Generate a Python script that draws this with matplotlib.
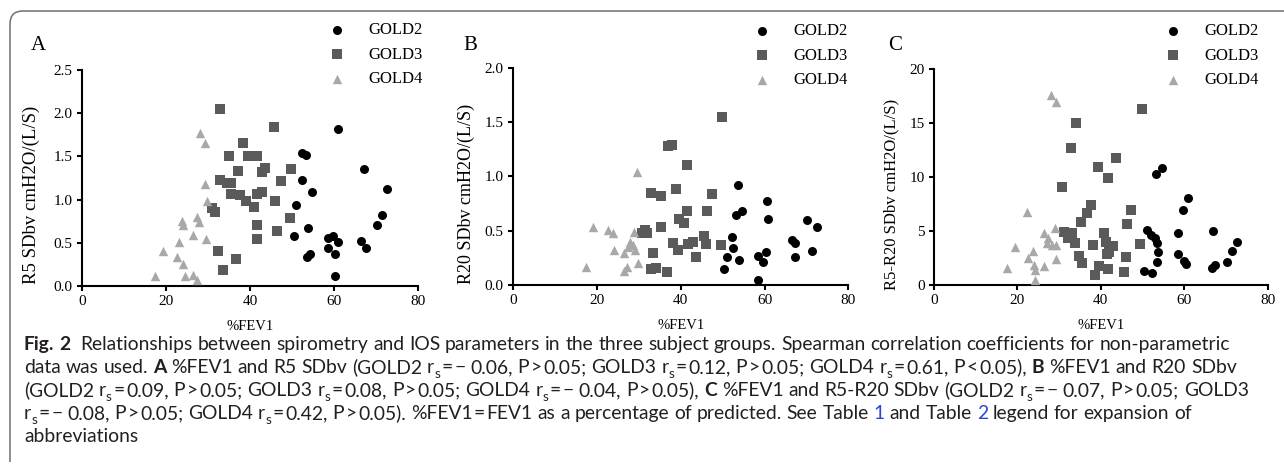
import re
import matplotlib
matplotlib.use("Agg")
import matplotlib.pyplot as plt
from matplotlib.path import Path
from matplotlib.patches import PathPatch
from matplotlib.transforms import IdentityTransform

plt.rcParams["font.family"] = ["Liberation Serif", "DejaVu Serif"]

# --- data (x = %FEV1) ---
GROUPS = ["GOLD2", "GOLD3", "GOLD4"]

# panel A: R5 SDbv
A_G2_X = [61.0, 52.2, 53.3, 67.1, 52.2, 54.6, 72.6, 51.0, 71.4, 70.2, 53.8, 50.5, 58.4, 59.8, 60.8, 58.6, 60.2, 66.4, 67.5, 53.6, 54.2, 60.2]
A_G2_Y = [1.82, 1.54, 1.52, 1.35, 1.23, 1.09, 1.12, 0.94, 0.82, 0.71, 0.67, 0.58, 0.56, 0.58, 0.51, 0.44, 0.37, 0.52, 0.44, 0.33, 0.37, 0.11]
A_G3_X = [32.9, 45.7, 38.3, 35.0, 39.5, 41.5, 37.0, 43.5, 42.9, 49.7, 32.9, 34.5, 35.5, 47.3, 35.4, 37.5, 38.9, 41.7, 42.9, 40.9,
          46.0, 30.9, 31.6, 49.4, 41.7, 46.3, 41.5, 32.2, 36.7, 33.6]
A_G3_Y = [2.05, 1.84, 1.65, 1.51, 1.50, 1.50, 1.33, 1.36, 1.32, 1.35, 1.23, 1.19, 1.19, 1.22, 1.06, 1.05, 0.98, 1.07, 1.09, 0.91,
          0.98, 0.90, 0.86, 0.79, 0.71, 0.64, 0.54, 0.40, 0.31, 0.19]
A_G4_X = [28.0, 29.2, 29.2, 29.8, 23.8, 24.0, 27.2, 27.8, 26.4, 29.4, 23.1, 19.3, 22.5, 24.0, 17.3, 24.4, 26.4, 27.2]
A_G4_Y = [1.77, 1.66, 1.18, 0.98, 0.75, 0.71, 0.80, 0.74, 0.59, 0.54, 0.51, 0.41, 0.33, 0.26, 0.11, 0.11, 0.13, 0.07]

# panel B: R20 SDbv
B_G2_X = [53.6, 60.5, 54.5, 53.1, 60.9, 70.2, 72.6, 52.2, 52.4, 66.5, 67.3, 51.0, 54.0, 58.5, 60.3, 59.7, 67.3, 71.4, 50.4, 58.5]
B_G2_Y = [0.92, 0.77, 0.68, 0.64, 0.61, 0.60, 0.53, 0.44, 0.34, 0.41, 0.39, 0.26, 0.23, 0.27, 0.30, 0.21, 0.26, 0.31, 0.15, 0.05]
B_G3_X = [49.8, 37.0, 37.8, 41.4, 32.9, 35.2, 38.8, 47.4, 41.4, 46.2, 39.6, 40.8, 35.2, 31.5, 32.0, 30.7, 38.2, 39.4, 41.8, 42.8,
          45.6, 46.0, 49.5, 33.4, 43.6, 32.9, 34.1, 36.6]
B_G3_Y = [1.55, 1.28, 1.29, 1.10, 0.85, 0.82, 0.88, 0.84, 0.68, 0.68, 0.61, 0.57, 0.53, 0.51, 0.48, 0.48, 0.39, 0.32, 0.38, 0.40,
          0.45, 0.38, 0.37, 0.29, 0.26, 0.15, 0.16, 0.12]
B_G4_X = [29.5, 19.1, 22.5, 23.9, 28.9, 27.9, 27.5, 28.7, 29.1, 24.1, 26.5, 17.4, 27.2, 26.5, 29.7]
B_G4_Y = [1.04, 0.53, 0.51, 0.48, 0.49, 0.40, 0.35, 0.37, 0.32, 0.32, 0.29, 0.17, 0.17, 0.13, 0.20]

# panel C: R5-R20 SDbv
C_G2_X = [54.6, 53.2, 61.0, 59.8, 67.0, 58.4, 51.0, 52.0, 53.0, 53.5, 72.7, 71.4, 53.8, 58.4, 53.5, 59.9, 60.3, 70.2, 67.4, 66.6, 50.3, 52.2]
C_G2_Y = [10.86, 10.25, 8.08, 6.94, 5.00, 4.79, 5.09, 4.63, 4.32, 3.92, 4.01, 3.18, 3.02, 2.87, 2.16, 2.22, 1.91, 2.16, 1.85, 1.54, 1.33, 1.08]
C_G3_X = [49.8, 34.0, 32.8, 43.6, 39.4, 41.6, 30.8, 37.6, 36.6, 47.2, 35.2, 46.2, 31.2, 33.0, 32.2, 40.8, 33.8, 41.2, 42.8, 38.0,
          49.4, 42.0, 41.4, 34.8, 35.4, 46.0, 39.6, 41.8, 38.6, 45.6]
C_G3_Y = [16.3, 14.97, 12.66, 11.73, 10.96, 9.88, 9.04, 7.41, 6.64, 6.94, 5.86, 5.65, 4.94, 4.79, 4.32, 4.85, 3.86, 4.01, 3.64, 3.70,
          3.80, 3.09, 2.87, 2.69, 2.01, 2.56, 1.79, 1.45, 0.93, 1.17]
C_G4_X = [28.0, 29.3, 22.4, 29.0, 26.4, 27.4, 27.0, 28.2, 29.3, 19.3, 23.8, 22.6, 29.3, 17.4, 24.0, 24.2, 26.4, 24.2]
C_G4_Y = [17.6, 16.97, 6.73, 5.25, 4.79, 4.32, 3.86, 3.70, 3.70, 3.55, 3.18, 2.47, 2.38, 1.60, 1.85, 1.39, 1.76, 0.46]

X_TICKS = [0, 20, 40, 60, 80]
A_TICKS = [0.0, 0.5, 1.0, 1.5, 2.0, 2.5]
B_TICKS = [0.0, 0.5, 1.0, 1.5, 2.0]
C_TICKS = [0, 5, 10, 15, 20]

CAPTION = [
    "**Fig. 2**  Relationships between spirometry and IOS parameters in the three subject groups. Spearman correlation coefficients for non-parametric",
    "data was used. **A** %FEV1 and R5 SDbv (GOLD2 r_s = − 0.06, P > 0.05; GOLD3 r_s = 0.12, P > 0.05; GOLD4 r_s = 0.61, P < 0.05), **B** %FEV1 and R20 SDbv",
    "(GOLD2 r_s = 0.09, P > 0.05; GOLD3 r_s = 0.08, P > 0.05; GOLD4 r_s = − 0.04, P > 0.05), **C** %FEV1 and R5-R20 SDbv (GOLD2 r_s = − 0.07, P > 0.05; GOLD3",
    "r_s = − 0.08, P > 0.05; GOLD4 r_s = 0.42, P > 0.05). %FEV1 = FEV1 as a percentage of predicted. See Table [1] and Table [2] legend for expansion of",
    "abbreviations",
]
# right ends of the first four caption lines in the reference (pixels)
CAPTION_ENDS = [1235, 1226, 1239, 1198]

# --- styling ---
W, H = 1284, 474
MARKERS = {"GOLD2": ("o", "black", 42), "GOLD3": ("s", "#5a5a5a", 42), "GOLD4": ("^", "#a8a8a8", 46)}
CAP_FONT = ["Lato", "DejaVu Sans"]
CAP_COLOR = "#231f20"
LINK_COLOR = "#2b45d8"
THIN = "\u2009"

fig = plt.figure(figsize=(W / 100, H / 100), dpi=100)


def px_box(left, top, right, bottom):
    return [left / W, 1 - bottom / H, (right - left) / W, (bottom - top) / H]


panels = [
    dict(letter="A", lx=31, box=(82.3, 70, 418.3, 286), ylabel="R5 SDbv cmH2O/(L/S)", ylsize=13.5, ylx=-0.125,
         ticks=A_TICKS, fmt="{:.1f}", leg=(328.4, 22),
         data=[(A_G2_X, A_G2_Y), (A_G3_X, A_G3_Y), (A_G4_X, A_G4_Y)]),
    dict(letter="B", lx=463, box=(513.3, 67.7, 848.3, 285), ylabel="R20 SDbv cmH2O/(L/S)", ylsize=13, ylx=-0.115,
         ticks=B_TICKS, fmt="{:.1f}", leg=(753.4, 23),
         data=[(B_G2_X, B_G2_Y), (B_G3_X, B_G3_Y), (B_G4_X, B_G4_Y)]),
    dict(letter="C", lx=888, box=(934, 69, 1267.7, 285), ylabel="R5-R20 SDbv cmH2O/(L/S)", ylsize=12, ylx=-0.103,
         ticks=C_TICKS, fmt="{:d}", leg=(1165, 23),
         data=[(C_G2_X, C_G2_Y), (C_G3_X, C_G3_Y), (C_G4_X, C_G4_Y)]),
]

for p in panels:
    ax = fig.add_axes(px_box(*p["box"]))
    for name, (xs, ys) in zip(GROUPS, p["data"]):
        m, c, s = MARKERS[name]
        ax.scatter(xs, ys, marker=m, c=c, s=s, linewidths=0, label=name, clip_on=False, zorder=3)
    ax.set_xlim(0, 80)
    ax.set_ylim(p["ticks"][0], p["ticks"][-1])
    ax.set_xticks(X_TICKS)
    ax.set_yticks(p["ticks"])
    ax.set_yticklabels([p["fmt"].format(t) for t in p["ticks"]])
    for side in ["top", "right"]:
        ax.spines[side].set_visible(False)
    for side in ["left", "bottom"]:
        ax.spines[side].set_linewidth(1.5)
    ax.tick_params(direction="out", length=3.8, width=1.5, labelsize=11, pad=3)
    ax.set_xlabel("%FEV1", fontsize=10.5)
    ax.xaxis.set_label_coords(0.5, -0.158)
    ax.set_ylabel(p["ylabel"], fontsize=p["ylsize"])
    ax.yaxis.set_label_coords(p["ylx"], 0.42)
    lx, ly = p["leg"]
    ax.legend(loc="upper left", bbox_to_anchor=(lx / W, 1 - ly / H), bbox_transform=fig.transFigure,
              frameon=False, borderpad=0, borderaxespad=0, handlelength=1.0, handletextpad=1.38,
              labelspacing=0.52, prop={"family": "Liberation Serif", "size": 12})
    fig.text(p["lx"] / W, 1 - 50 / H, p["letter"], fontsize=15, va="baseline", ha="left")

# rounded frame on the top and left edges
frame = Path([(10, 12), (10, H - 24), (10, H - 11), (23, H - 11), (W + 5, H - 11)],
             [Path.MOVETO, Path.LINETO, Path.CURVE3, Path.CURVE3, Path.LINETO])
fig.add_artist(PathPatch(frame, fill=False, edgecolor="#707070", linewidth=1.1, transform=IdentityTransform()))

# --- caption, placed word by word so bold, links and subscripts can be mixed ---
renderer = fig.canvas.get_renderer()


def parse(line):
    for op in "=<>":
        line = line.replace(" " + op + " ", THIN + op + THIN)
    runs = []
    for part in re.split(r"(\*\*.+?\*\*|\[.+?\]|_s)", line):
        if not part:
            continue
        if part.startswith("**"):
            runs.append((part[2:-2], "bold"))
        elif part.startswith("["):
            runs.append((part[1:-1], "link"))
        elif part == "_s":
            runs.append(("s", "sub"))
        else:
            runs.append((part, "normal"))
    return runs


def text_kw(style, size):
    kw = dict(family=CAP_FONT, fontsize=size, color=CAP_COLOR, va="baseline", ha="left")
    if style == "bold":
        kw["fontweight"] = "bold"
    if style == "link":
        kw["color"] = LINK_COLOR
    if style == "sub":
        kw["fontsize"] = size * 0.7
    return kw


def measure(text, style, size):
    t = fig.text(0, 0, text, **text_kw(style, size))
    w = t.get_window_extent(renderer).width
    t.remove()
    return w


def layout(runs, size, x0=None, base=None):
    space = measure("a a", "normal", size) - measure("aa", "normal", size)
    x = 0.0 if x0 is None else x0
    for text, style in runs:
        for piece in re.split("( |" + THIN + ")", text):
            if piece == " ":
                x += space
            elif piece == THIN:
                x += space * 0.3
            elif piece:
                if x0 is not None:
                    dy = size * 0.28 * 100 / 72 if style == "sub" else 0
                    fig.text(x / W, 1 - (base + dy) / H, piece, **text_kw(style, size))
                x += measure(piece, style, size)
    return x


X0 = 24
parsed = [parse(line) for line in CAPTION]
ratios = [(end - X0) / layout(runs, 10) for runs, end in zip(parsed, CAPTION_ENDS)]
size = 10 * sum(ratios) / len(ratios)
for i, runs in enumerate(parsed):
    layout(runs, size, x0=X0, base=350 + 23 * i)

fig.savefig("out.png", dpi=100)
